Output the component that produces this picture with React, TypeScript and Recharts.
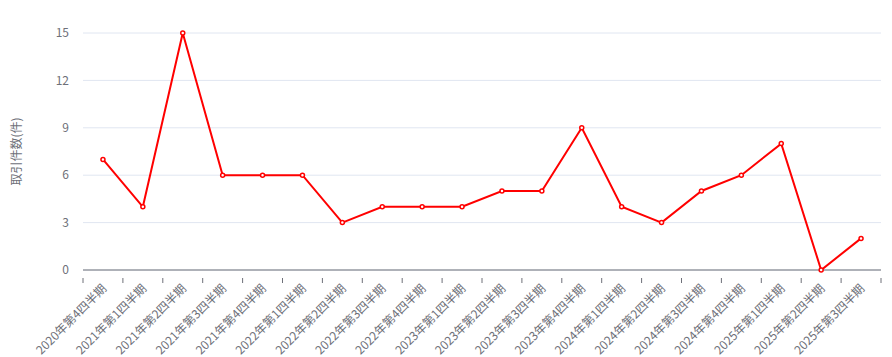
import React from "react";
import { LineChart, Line, XAxis, YAxis, CartesianGrid } from "recharts";

const categories = [
  "2020年第4四半期", "2021年第1四半期", "2021年第2四半期", "2021年第3四半期",
  "2021年第4四半期", "2022年第1四半期", "2022年第2四半期", "2022年第3四半期",
  "2022年第4四半期", "2023年第1四半期", "2023年第2四半期", "2023年第3四半期",
  "2023年第4四半期", "2024年第1四半期", "2024年第2四半期", "2024年第3四半期",
  "2024年第4四半期", "2025年第1四半期", "2025年第2四半期", "2025年第3四半期",
];
const counts = [7, 4, 15, 6, 6, 6, 3, 4, 4, 4, 5, 5, 9, 4, 3, 5, 6, 8, 0, 2];
const yTicks = [0, 3, 6, 9, 12, 15];
const yLabel = "取引件数(件)";

const data = categories.map((c, i) => ({ name: c, value: counts[i] }));

const W = 892;
const H = 357;
const M = { top: 33, right: 11, left: 0, bottom: 0 };
const Y_W = 83;
const X_H = 87;
const PLOT_W = W - M.left - M.right - Y_W;
const BAND = PLOT_W / categories.length;
const FONT = "'Noto Sans CJK JP', 'Noto Sans', sans-serif";
const AXIS_COLOR = "#6E7079";

const XTick = (props: any) => {
  const { x, y, payload, index } = props;
  const isLast = index === categories.length - 1;
  return (
    <g>
      <line x1={x - BAND / 2} x2={x - BAND / 2} y1={y} y2={y + 5} stroke={AXIS_COLOR} strokeWidth={1} />
      {isLast && (
        <line x1={x + BAND / 2} x2={x + BAND / 2} y1={y} y2={y + 5} stroke={AXIS_COLOR} strokeWidth={1} />
      )}
      <text
        x={x + 2}
        y={y + 9}
        transform={`rotate(-45, ${x + 2}, ${y + 9})`}
        textAnchor="end"
        dominantBaseline="middle"
        fill={AXIS_COLOR}
        fontSize={12}
        fontFamily={FONT}
      >
        {payload.value}
      </text>
    </g>
  );
};

export default function App() {
  return (
    <div style={{ position: "absolute", left: 0, top: 0, width: W, height: H, background: "#fff" }}>
      <LineChart width={W} height={H} data={data} margin={M}>
        <CartesianGrid horizontal vertical={false} stroke="#E0E6F1" />
        <XAxis
          dataKey="name"
          height={X_H}
          interval={0}
          padding={{ left: BAND / 2, right: BAND / 2 }}
          tickLine={false}
          axisLine={{ stroke: AXIS_COLOR }}
          tick={<XTick />}
        />
        <YAxis
          width={Y_W}
          domain={[0, 15]}
          ticks={yTicks}
          interval={0}
          axisLine={false}
          tickLine={false}
          tickMargin={8}
          tick={{ fill: AXIS_COLOR, fontSize: 12, fontFamily: FONT }}
          label={{
            value: yLabel,
            angle: -90,
            position: "insideLeft",
            offset: 17,
            style: { fill: AXIS_COLOR, fontSize: 12, fontFamily: FONT, textAnchor: "middle" },
          }}
        />
        <Line
          type="linear"
          dataKey="value"
          stroke="#FF0000"
          strokeWidth={2}
          dot={{ r: 2, fill: "#fff", stroke: "#FF0000", strokeWidth: 1.5 }}
          activeDot={false}
          isAnimationActive={false}
        />
      </LineChart>
    </div>
  );
}
